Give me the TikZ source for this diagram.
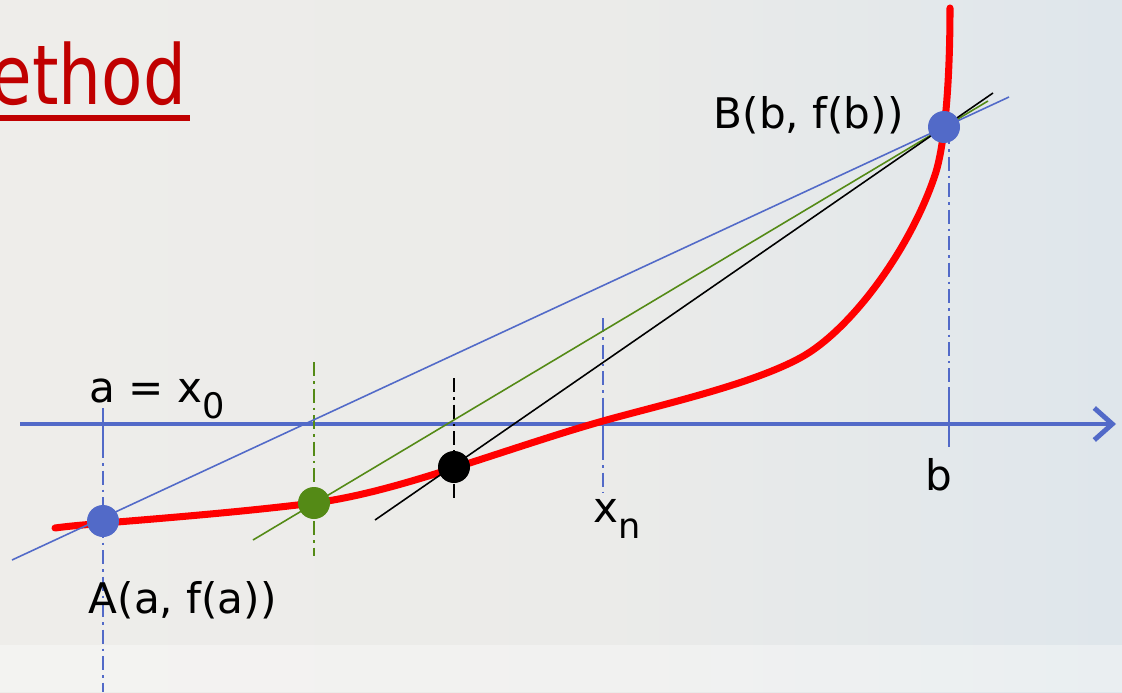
\documentclass[tikz,border=0pt]{standalone}
\usepackage{fontspec}
\setmainfont{DejaVu Sans}
\newfontfamily\titlefont[FakeStretch=0.82]{DejaVu Sans}
\usetikzlibrary{arrows.meta}
\definecolor{axisblue}{RGB}{82,106,200}
\definecolor{ptgreen}{RGB}{84,138,22}
\definecolor{titlered}{RGB}{192,0,0}
\definecolor{bgleft}{RGB}{241,239,235}
\definecolor{bgmid}{RGB}{235,235,233}
\definecolor{bgblue}{RGB}{220,229,236}
\definecolor{bgright}{RGB}{202,220,236}
\pgfdeclarehorizontalshading{slidebg}{100bp}{color(0bp)=(bgleft); color(52bp)=(bgmid); color(80bp)=(bgblue); color(100bp)=(bgright)}
\newcommand{\lowsub}[1]{\raisebox{-0.4em}{\fontsize{10}{10}\selectfont #1}}

\begin{document}
\begin{tikzpicture}[x=0.1mm,y=-0.1mm,
    every node/.style={font=\fontsize{12}{14}\selectfont,inner sep=0pt},
    ptdot/.style={circle,inner sep=0pt,minimum size=3.2mm},
    dashdot/.style={line width=0.6pt,dash pattern=on 1.4mm off 0.5mm on 0.25mm off 0.5mm},
    chord/.style={line width=0.45pt},
    >={Straight Barb[length=1.8mm,width=3.2mm]}]
        \useasboundingbox (0,0) rectangle (1122,692);
        \clip (0,0) rectangle (1122,692);
        \shade[shading=slidebg] (0,0) rectangle (1122,692);
        \fill[white,opacity=0.35] (0,645) rectangle (1122,692);
        % title
        \node[anchor=base east,text=titlered,font=\titlefont\fontsize{23.5}{26}\selectfont] (title) at (187,105) {ethod};
        \draw[titlered,line width=1.5pt] (-10,118) -- (190,118);
        % axis and ticks
        \draw[->,axisblue,line width=1.4pt] (20,424) -- (1116,424);
        \draw[axisblue,line width=0.8pt] (103,408) -- (103,444);
        \draw[axisblue,line width=0.8pt] (603,407) -- (603,446);
        \draw[axisblue,line width=0.8pt] (949,389) -- (949,447);
        % vertical guides
        \draw[dashdot,axisblue] (103,444) -- (103,692);
        \draw[dashdot,axisblue] (603,318) -- (603,407);
        \draw[dashdot,axisblue] (603,446) -- (603,492);
        \draw[dashdot,axisblue] (949,130) -- (949,389);
        \draw[dashdot,ptgreen] (314,362) -- (314,556);
        \draw[dashdot,black] (454,378) -- (454,500);
        % curve
        \draw[red,line width=2pt,line cap=round] (55,528)
            .. controls (90,523) and (200,517) .. (314,503)
            .. controls (360,497) and (410,482) .. (454,468)
            .. controls (500,453.4) and (560,433) .. (603,421)
            .. controls (660,405) and (750,385) .. (800,358)
            .. controls (850,331) and (910,250) .. (935,175)
            .. controls (945,145) and (950,80) .. (950,8);
        % chords
        \coordinate (bs) at (12,560);
        \coordinate (be) at (1009,97);
        \coordinate (gs) at (253,540);
        \coordinate (ge) at (988,101);
        \coordinate (ks) at (375,520);
        \coordinate (ke) at (993,93);
        \draw[chord,axisblue] (bs) -- (be);
        \draw[chord,ptgreen] (gs) -- (ge);
        \draw[chord,black] (ks) -- (ke);
        % points
        \node[ptdot,fill=axisblue] (A) at (103,521) {};
        \node[ptdot,fill=axisblue] (B) at (944,127) {};
        \node[ptdot,fill=ptgreen] (p1) at (314,503) {};
        \node[ptdot,fill=black] (p2) at (454,467) {};
        % labels
        \node[anchor=base west] (la) at (89,402) {a = x\lowsub{0}};
        \node[anchor=base west] (lA) at (88,613) {A(a, f(a))};
        \node[anchor=base west] (lB) at (713,128) {B(b, f(b))};
        \node[anchor=base west] (lb) at (925,490) {b};
        \node[anchor=base west] (lxn) at (593,522) {x\lowsub{n}};
    \end{tikzpicture}
\end{document}
